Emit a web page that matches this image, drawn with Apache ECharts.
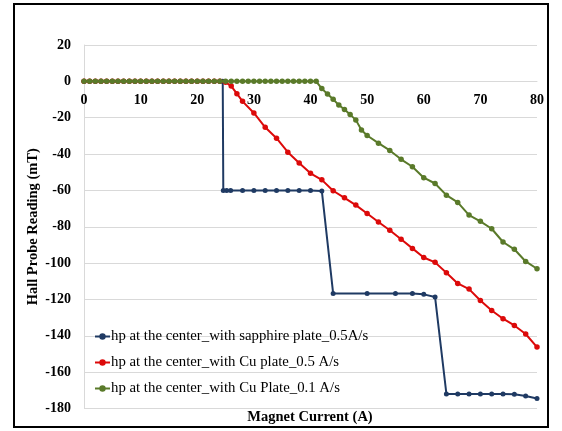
<!DOCTYPE html>
<html>
<head>
<meta charset="utf-8">
<script src="https://cdn.jsdelivr.net/npm/echarts@6/dist/echarts.min.js"></script>
<style>html,body{margin:0;padding:0;background:#fff}#c{width:562px;height:431px}</style>
</head>
<body>
<div id="c"></div>
<script>
var seriesNames = [
  'hp at the center_with sapphire plate_0.5A/s',
  'hp at the center_with Cu plate_0.5 A/s',
  'hp at the center_with Cu Plate_0.1 A/s'
];
var xTicks = [0, 10, 20, 30, 40, 50, 60, 70, 80];
var yTicks = [20, 0, -20, -40, -60, -80, -100, -120, -140, -160, -180];

var blueX = [0,1,2,3,4,5,6,7,8,9,10,11,12,13,14,15,16,17,18,19,20,21,22,23,24,24.5,24.6,25.2,25.9,28,30,32,34,36,38,40,42,44,50,55,58,60,62,64,66,68,70,72,74,76,78,80];
var blueY = [0,0,0,0,0,0,0,0,0,0,0,0,0,0,0,0,0,0,0,0,0,0,0,0,0,0,-60,-60,-60,-60,-60,-60,-60,-60,-60,-60,-60.3,-116.7,-116.7,-116.7,-116.7,-117.2,-118.7,-172,-172,-172,-172,-172,-172,-172.2,-173.1,-174.5];

var redX = [0,1,2,3,4,5,6,7,8,9,10,11,12,13,14,15,16,17,18,19,20,21,22,23,24,25,26,27,28,30,32,34,36,38,40,42,44,46,48,50,52,54,56,58,60,62,64,66,68,70,72,74,76,78,80];
var redY = [0,0,0,0,0,0,0,0,0,0,0,0,0,0,0,0,0,0,0,0,0,0,0,0,0,-0.5,-2.6,-6.8,-11,-17.4,-25.3,-31.3,-39,-44.9,-50.6,-54.2,-60.2,-64.1,-68.1,-72.7,-77.4,-81.9,-86.9,-91.9,-96.9,-99.6,-105.3,-111.2,-114.3,-120.6,-126.1,-130.6,-134.3,-139,-146.2];

var greenX = [0,1,2,3,4,5,6,7,8,9,10,11,12,13,14,15,16,17,18,19,20,21,22,23,24,25,26,27,28,29,30,31,32,33,34,35,36,37,38,39,40,41,42,43,44,45,46,47,48,49,50,52,54,56,58,60,62,64,66,68,70,72,74,76,78,80];
var greenY = [0,0,0,0,0,0,0,0,0,0,0,0,0,0,0,0,0,0,0,0,0,0,0,0,0,0,0,0,0,0,0,0,0,0,0,0,0,0,0,0,0,0,-4,-7,-9.9,-13,-15.5,-18.3,-21.2,-26.8,-29.8,-34,-38,-42.9,-47,-53,-56.2,-62.6,-66.6,-73.6,-77,-81.1,-88.4,-92.4,-99.1,-103.1];

var colors = ['#1f3a63', '#dc0a0a', '#5a7a2a'];
function pairs(xs, ys) { return xs.map(function (x, i) { return [x, ys[i]]; }); }

var serif = '"Liberation Serif", "Times New Roman", serif';
var gridTop = 45, gridBottom = 22.5, H = 431;
var plotH = H - gridTop - gridBottom;
var yMin = yTicks[yTicks.length - 1], yMax = yTicks[0];
// distance from the bottom of the plot up to the zero line
var zeroOffset = -plotH * (0 - yMin) / (yMax - yMin);

var chart = echarts.init(document.getElementById('c'));
chart.setOption({
  animation: false,
  backgroundColor: '#fff',
  color: colors,
  grid: { left: 84, right: 25, top: gridTop, bottom: gridBottom, containLabel: false },
  xAxis: {
    type: 'value', min: xTicks[0], max: xTicks[xTicks.length - 1], interval: 10,
    position: 'bottom', offset: zeroOffset,
    axisLine: { show: true, onZero: false, lineStyle: { color: '#d9d9d9', width: 1 } },
    axisTick: { show: false },
    splitLine: { show: false },
    axisLabel: { color: '#000', fontFamily: serif, fontWeight: 'bold', fontSize: 14, margin: 12, showMinLabel: true, showMaxLabel: true }
  },
  yAxis: {
    type: 'value', min: yMin, max: yMax, interval: 20,
    name: 'Hall Probe Reading (mT)', nameLocation: 'middle', nameGap: 43, nameMoveOverlap: false,
    nameTextStyle: { color: '#000', fontFamily: serif, fontWeight: 'bold', fontSize: 14.5 },
    axisLine: { show: true, onZero: false, lineStyle: { color: '#d9d9d9', width: 1 } },
    axisTick: { show: false },
    splitLine: { show: true, lineStyle: { color: '#d9d9d9', width: 1 } },
    axisLabel: { color: '#000', fontFamily: serif, fontWeight: 'bold', fontSize: 14, margin: 13 }
  },
  legend: {
    orient: 'vertical', left: 89, top: 324, itemGap: 11, itemWidth: 15, itemHeight: 8,
    data: seriesNames,
    textStyle: { color: '#000', fontFamily: serif, fontSize: 14.8, padding: [0, 0, 0, -4] }
  },
  graphic: [
    { type: 'rect', shape: { x: 14, y: 4, width: 534, height: 423 }, style: { fill: 'none', stroke: '#000', lineWidth: 2 }, silent: true },
    { type: 'text', x: 310, y: 417, style: { text: 'Magnet Current (A)', align: 'center', verticalAlign: 'middle', fill: '#000', font: 'bold 14.5px ' + serif } }
  ],
  series: [
    { name: seriesNames[0], type: 'line', data: pairs(blueX, blueY), symbol: 'circle', symbolSize: 5, lineStyle: { width: 2 }, itemStyle: { color: colors[0] }, z: 2 },
    { name: seriesNames[1], type: 'line', data: pairs(redX, redY), symbol: 'circle', symbolSize: 5.5, lineStyle: { width: 2 }, itemStyle: { color: colors[1] }, z: 3 },
    { name: seriesNames[2], type: 'line', data: pairs(greenX, greenY), symbol: 'circle', symbolSize: 5.5, lineStyle: { width: 2 }, itemStyle: { color: colors[2] }, z: 4 }
  ]
});
</script>
</body>
</html>
